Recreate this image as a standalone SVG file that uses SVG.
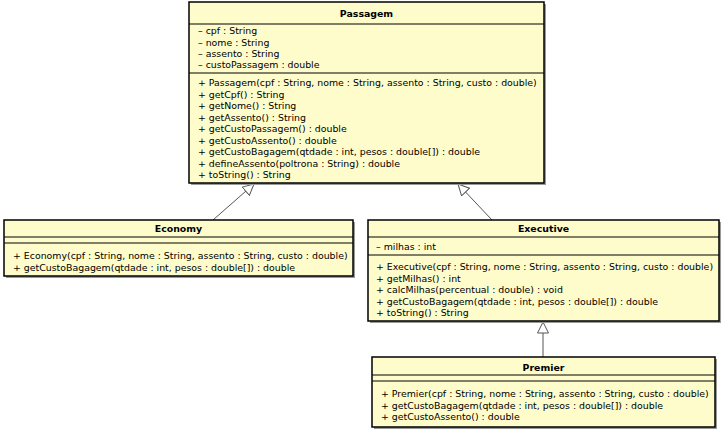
<svg xmlns="http://www.w3.org/2000/svg" width="728" height="434" viewBox="0 0 728 434">
  <style>
    .box { fill: #fefccb; stroke: #000; stroke-width: 1.5; }
    .shadow { fill: #9a9a9a; }
    .sep { stroke: #000; stroke-width: 1; }
    .t { font-family: "DejaVu Sans", "Liberation Sans", sans-serif; font-size: 9.4px; fill: #000; }
    .title { font-family: "DejaVu Sans", "Liberation Sans", sans-serif; font-size: 9.4px; font-weight: bold; fill: #000; text-anchor: middle; }
    .conn { stroke: #555; stroke-width: 1; fill: none; marker-end: url(#gen); }
  </style>
  <defs>
    <!-- hollow triangle for generalization -->
    <marker id="gen" viewBox="0 0 12 12" refX="11.5" refY="6" markerWidth="12" markerHeight="12" markerUnits="userSpaceOnUse" orient="auto">
      <path d="M0.5,0.5 L11.5,6 L0.5,11.5 Z" fill="#fff" stroke="#555" stroke-width="1"/>
    </marker>
  </defs>
  <rect width="728" height="434" fill="#fff"/>

  <g id="connectors">
    <line class="conn" x1="213" y1="220" x2="254" y2="184"/>
    <line class="conn" x1="492" y1="220" x2="458" y2="184"/>
    <line class="conn" x1="543" y1="357" x2="543" y2="322"/>
  </g>

  <g id="Passagem">
    <rect class="shadow" x="191" y="4" width="355" height="181"/>
    <rect class="box" x="189" y="2" width="355" height="181"/>
    <line class="sep" x1="189" y1="24" x2="544" y2="24"/>
    <line class="sep" x1="189" y1="73" x2="544" y2="73"/>
    <text class="title" x="366.5" y="16.5">Passagem</text>
    <text class="t" x="198" y="34">– cpf : String</text>
    <text class="t" x="198" y="45.5">– nome : String</text>
    <text class="t" x="198" y="57">– assento : String</text>
    <text class="t" x="198" y="68">– custoPassagem : double</text>
    <text class="t" x="198" y="86">+ Passagem(cpf : String, nome : String, assento : String, custo : double)</text>
    <text class="t" x="198" y="97.5">+ getCpf() : String</text>
    <text class="t" x="198" y="109">+ getNome() : String</text>
    <text class="t" x="198" y="120.5">+ getAssento() : String</text>
    <text class="t" x="198" y="132">+ getCustoPassagem() : double</text>
    <text class="t" x="198" y="143.5">+ getCustoAssento() : double</text>
    <text class="t" x="198" y="155">+ getCustoBagagem(qtdade : int, pesos : double[]) : double</text>
    <text class="t" x="198" y="166.5">+ defineAssento(poltrona : String) : double</text>
    <text class="t" x="198" y="178">+ toString() : String</text>
  </g>

  <g id="Economy">
    <rect class="shadow" x="6" y="222" width="349" height="56"/>
    <rect class="box" x="4" y="220" width="349" height="56"/>
    <line class="sep" x1="4" y1="237" x2="353" y2="237"/>
    <line class="sep" x1="4" y1="243" x2="353" y2="243"/>
    <text class="title" x="178.5" y="232">Economy</text>
    <text class="t" x="13" y="259">+ Economy(cpf : String, nome : String, assento : String, custo : double)</text>
    <text class="t" x="13" y="270.5">+ getCustoBagagem(qtdade : int, pesos : double[]) : double</text>
  </g>

  <g id="Executive">
    <rect class="shadow" x="370" y="222" width="351" height="101"/>
    <rect class="box" x="368" y="220" width="351" height="101"/>
    <line class="sep" x1="368" y1="237" x2="719" y2="237"/>
    <line class="sep" x1="368" y1="255" x2="719" y2="255"/>
    <text class="title" x="543.5" y="232">Executive</text>
    <text class="t" x="376" y="249.5">– milhas : int</text>
    <text class="t" x="376" y="270">+ Executive(cpf : String, nome : String, assento : String, custo : double)</text>
    <text class="t" x="376" y="281.5">+ getMilhas() : int</text>
    <text class="t" x="376" y="293">+ calcMilhas(percentual : double) : void</text>
    <text class="t" x="376" y="304.5">+ getCustoBagagem(qtdade : int, pesos : double[]) : double</text>
    <text class="t" x="376" y="316">+ toString() : String</text>
  </g>

  <g id="Premier">
    <rect class="shadow" x="374" y="359" width="343" height="70"/>
    <rect class="box" x="372" y="357" width="343" height="70"/>
    <line class="sep" x1="372" y1="375" x2="715" y2="375"/>
    <line class="sep" x1="372" y1="381" x2="715" y2="381"/>
    <text class="title" x="543.5" y="371">Premier</text>
    <text class="t" x="381" y="397">+ Premier(cpf : String, nome : String, assento : String, custo : double)</text>
    <text class="t" x="381" y="408.5">+ getCustoBagagem(qtdade : int, pesos : double[]) : double</text>
    <text class="t" x="381" y="420">+ getCustoAssento() : double</text>
  </g>
</svg>
